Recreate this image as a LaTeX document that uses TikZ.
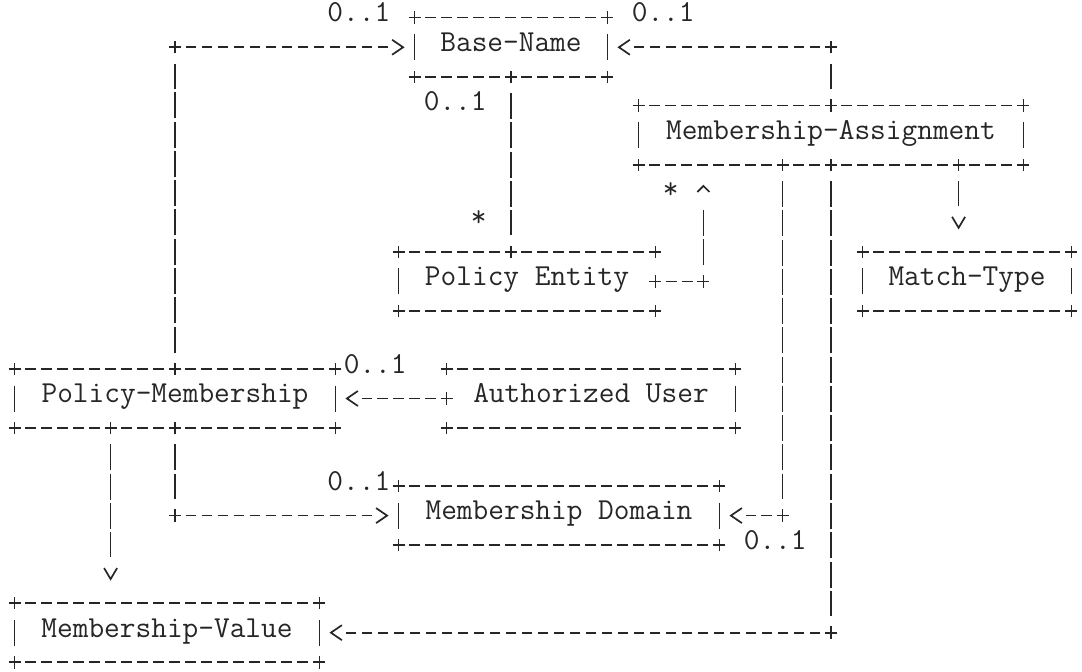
\documentclass[tikz,border=0pt]{standalone}
\usepackage{fontspec}
\usepackage{tikz}
\usetikzlibrary{positioning,arrows.meta,calc}

\begin{document}
\begin{tikzpicture}[x=8pt, y=-14.635pt,
  every node/.style={font=\ttfamily\fontsize{15.24}{18}\selectfont, text=black!85}]
  \tikzset{
    glyph/.style={draw=black!85, line width=0.85pt},
    hdash/.style={glyph, dash pattern=on 5.2pt off 2.8pt, dash phase=2.6pt},
    vdash/.style={glyph, dash pattern=on 13pt off 1.635pt, shorten <=8.135pt, shorten >=8.135pt},
    tiponly/.style={draw, glyph, dash pattern=on 1pt off 1000pt, dash phase=1pt, shorten <=0pt},
    harrow/.style={hdash, shorten >=13.5pt,
      postaction={tiponly, shorten >=5pt, -{Straight Barb[length=5.5pt,width=7.5pt]}}},
    downarrow/.style={vdash, shorten >=22.77pt,
      postaction={tiponly, shorten >=11.13pt, -{Straight Barb[length=5.5pt,width=6.5pt]}}},
    uparrow/.style={vdash, shorten >=22.77pt,
      postaction={tiponly, shorten >=10pt, -{Straight Barb[length=3pt,width=6pt]}}},
    classbox/.style={minimum width=#1*8pt, minimum height=29.27pt, inner sep=0pt,
      text height=0.5em, text depth=0.06em},
    mult/.style={inner sep=0pt, text height=0.5em, text depth=0.06em},
    pics/plusmark/.style={code={\draw[glyph] (-3pt,0) -- (3pt,0) (0,-3.1pt) -- (0,3.1pt);}}
  }
  \useasboundingbox (-0.9375,-0.615) rectangle (66.6875,22.31);

  % nodes
  \node[classbox=12] (basename) at (31,1) {Base-Name};
  \node[classbox=24] (assign) at (51,4) {Membership-Assignment};
  \node[classbox=16] (entity) at (32,9) {Policy Entity};
  \node[classbox=13] (matchtype) at (59.5,9) {Match-Type};
  \node[classbox=20] (polmember) at (10,13) {Policy-Membership};
  \node[classbox=18] (authuser) at (36,13) {Authorized User};
  \node[classbox=20] (domain) at (34,17) {Membership Domain};
  \node[classbox=19] (memvalue) at (9.5,21) {Membership-Value};

  % box outlines
  \foreach \b in {basename,assign,entity,matchtype,polmember,authuser,domain,memvalue} {
    \draw[hdash] (\b.north west) -- (\b.north east);
    \draw[hdash] (\b.south west) -- (\b.south east);
    \foreach \c in {north west,north east,south west,south east}
      \pic at (\b.\c) {plusmark};
  }
  \foreach \e in {basename.west,basename.east,assign.west,assign.east,entity.west,
                  matchtype.west,matchtype.east,polmember.west,polmember.east,
                  authuser.east,domain.west,domain.east,memvalue.west,memvalue.east}
    \draw[glyph] ([yshift=6.5pt]\e) -- ([yshift=-6.5pt]\e);

  % bends and attach points
  \coordinate (j1) at (polmember.north |- basename.west);
  \coordinate (j2) at (assign.north |- basename.east);
  \coordinate (e1) at (basename.south |- entity.north);
  \coordinate (j3) at ([xshift=24pt]entity.east);
  \coordinate (a1) at (j3 |- assign.south);
  \coordinate (a2) at ([xshift=72pt]assign.south west);
  \coordinate (a3) at ([xshift=160pt]assign.south west);
  \coordinate (j4) at (a2 |- domain.east);
  \coordinate (j5) at (assign.south |- memvalue.east);
  \coordinate (m1) at (a3 |- matchtype.north);
  \coordinate (p1) at ([xshift=48pt]polmember.south west);
  \coordinate (v1) at (p1 |- memvalue.north);
  \coordinate (j6) at (polmember.south |- domain.west);

  % arrows
  \draw[vdash] (polmember.north) -- (j1);
  \draw[harrow] (j1) -- (basename.west);
  \draw[vdash] (assign.north) -- (j2);
  \draw[harrow] (j2) -- (basename.east);
  \draw[vdash] (basename.south) -- (e1);
  \draw[hdash] (entity.east) -- (j3);
  \draw[uparrow] (j3) -- (a1);
  \draw[vdash] (a2) -- (j4);
  \draw[harrow] (j4) -- (domain.east);
  \draw[vdash] (assign.south) -- (j5);
  \draw[harrow] (j5) -- (memvalue.east);
  \draw[downarrow] (a3) -- (m1);
  \draw[harrow] (authuser.west) -- (polmember.east);
  \draw[vdash] (polmember.south) -- (j6);
  \draw[harrow] (j6) -- (domain.west);
  \draw[downarrow] (p1) -- (v1);

  \foreach \p in {j1,j2,e1,j3,j4,j5,j6,a2,a3,p1,basename.south,assign.north,assign.south,
                  entity.east,polmember.north,polmember.south,authuser.west}
    \pic at (\p) {plusmark};

  % multiplicities
  \node[mult, left=12pt of basename.north west] (nBaseL) {0..1};
  \node[mult, right=12pt of basename.north east] (nBaseR) {0..1};
  \node[mult, anchor=east] (nBaseS) at ([xshift=-12pt,yshift=-14.635pt]basename.south) {0..1};
  \node[mult, anchor=east] (nEntity) at ([xshift=-12pt,yshift=14.635pt]e1) {*};
  \node[mult] (nAssign) at ([xshift=16pt,yshift=-14.635pt]assign.south west) {*};
  \node[mult, right=4pt of polmember.north east] (nUser) {0..1};
  \node[mult, left=4pt of domain.north west] (nDomainL) {0..1};
  \node[mult, right=12pt of domain.south east] (nDomainR) {0..1};
\end{tikzpicture}
\end{document}
